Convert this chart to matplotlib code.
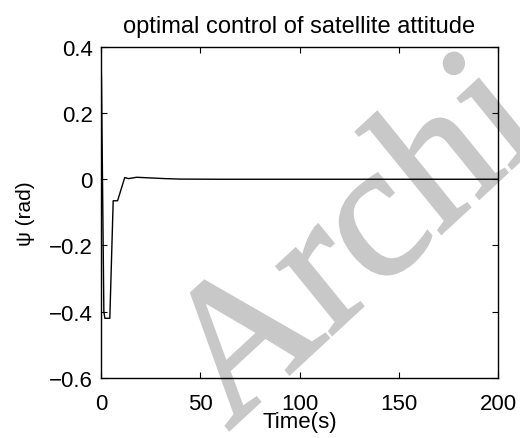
import matplotlib
matplotlib.use("Agg")
import matplotlib.pyplot as plt
from matplotlib.textpath import TextPath
from matplotlib.patches import PathPatch
from matplotlib.font_manager import FontProperties
from matplotlib.transforms import Affine2D

# psi(t)
t = [0, 0.3, 1.5, 2.0, 4.5, 6.2, 8.4, 12.0, 14.0, 18.0, 25.0, 32.0, 40.0, 60.0, 100.0, 200.0]
psi = [0.40, 0.30, -0.40, -0.42, -0.42, -0.065, -0.065, 0.005, 0.002, 0.006, 0.004, 0.002, 0.0005, 0.0, 0.0, 0.0]

xticks = [0, 50, 100, 150, 200]
yticks = [-0.6, -0.4, -0.2, 0, 0.2, 0.4]
yticklabels = ['\u22120.6', '\u22120.4', '\u22120.2', '0', '0.2', '0.4']

plt.rcParams['font.family'] = ['Liberation Sans', 'DejaVu Sans']

fig = plt.figure(figsize=(5.2, 4.39), dpi=100)
ax = fig.add_axes([0.194, 0.137, 0.764, 0.754])
ax.patch.set_alpha(0)

# watermark behind the axes (slanted by hand, no italic face installed)
wm = TextPath((0, 0), 'Archi', size=184, prop=FontProperties(family='Liberation Serif'))
wm_tr = Affine2D().skew_deg(8, 0).rotate_deg(45).scale(1.08, 1.0).translate(228, 7)
fig.add_artist(PathPatch(wm, transform=wm_tr, facecolor='#c8c8c8', edgecolor='#c8c8c8',
                         lw=2.0, zorder=0))

ax.plot(t, psi, color='black', lw=1.0)
ax.set_xlim(0, 200)
ax.set_ylim(-0.6, 0.4)
ax.set_xticks(xticks)
ax.set_yticks(yticks)
ax.set_yticklabels(yticklabels)
ax.tick_params(direction='in', top=True, right=True, labelsize=16, length=4)
ax.tick_params(axis='x', pad=11)
ax.tick_params(axis='y', pad=6)
ax.set_xlabel('Time(s)', fontsize=16, labelpad=-2)
ax.set_ylabel('\u03c8 (rad)', fontsize=15, labelpad=10)
ax.set_title('optimal control of satellite attitude', fontsize=17, pad=11)
for s in ax.spines.values():
    s.set_linewidth(1.0)

fig.savefig('out.png', dpi=100)
